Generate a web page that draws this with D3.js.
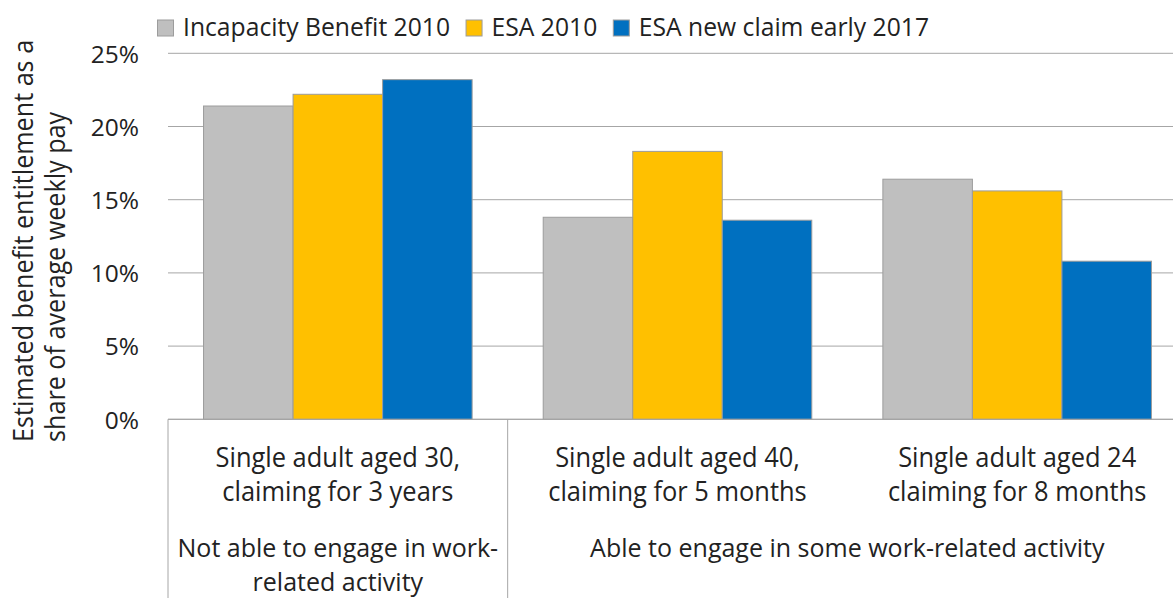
<!DOCTYPE html>
<html>
<head>
<meta charset="utf-8">
<script src="https://cdn.jsdelivr.net/npm/d3@7"></script>
<style>
  html, body { margin: 0; padding: 0; background: #ffffff; }
  svg { display: block; }
  text { font-family: "Open Sans", "Noto Sans", sans-serif; fill: #222222; }
</style>
</head>
<body>
<svg id="chart" width="1173" height="598"></svg>
<script>
// Scenario keys and their two-line labels on the category axis
const categories = ["aged30", "aged40", "aged24"];
const categoryLines = [
  ["Single adult aged 30,", "claiming for 3 years"],
  ["Single adult aged 40,", "claiming for 5 months"],
  ["Single adult aged 24", "claiming for 8 months"]
];

// Outer grouping of the scenarios
const groupLines = [
  ["Not able to engage in work-", "related activity"],
  ["Able to engage in some work-related activity"]
];
const groupMembers = [["aged30"], ["aged40", "aged24"]];

// Series (percent of average weekly pay)
const seriesNames = ["Incapacity Benefit 2010", "ESA 2010", "ESA new claim early 2017"];
const incapacity2010 = [21.4, 13.8, 16.4];
const esa2010 = [22.2, 18.3, 15.6];
const esaNew2017 = [23.2, 13.6, 10.8];
const seriesColors = ["#bfbfbf", "#ffc000", "#0070c0"];

// Axis
const yTicks = [0, 5, 10, 15, 20, 25];
const yTitleLines = ["Estimated benefit entitlement as a", "share of average weekly pay"];

const seriesValues = [incapacity2010, esa2010, esaNew2017];
const table = categories.map((c, i) => ({
  key: c,
  values: seriesNames.map((s, j) => ({ series: s, value: seriesValues[j][i], color: seriesColors[j] }))
}));

const svg = d3.select("#chart");
const plotLeft = 168, plotRight = 1187, plotTop = 53.3, plotBottom = 419.3;
const textScale = 0.95;
const gridColor = "#a6a6a6";

const x = d3.scaleBand().domain(categories).range([plotLeft, plotRight]).padding(0);
const xInner = d3.scaleBand().domain(seriesNames).range([0, x.bandwidth()])
  .paddingInner(0).paddingOuter(0.397);
const y = d3.scaleLinear().domain([0, 25]).range([plotBottom, plotTop]);

// Horizontal gridlines
svg.append("g").selectAll("line").data(yTicks).join("line")
  .attr("x1", plotLeft).attr("x2", plotRight)
  .attr("y1", d => y(d)).attr("y2", d => y(d))
  .attr("stroke", gridColor).attr("stroke-width", 1);

// Y tick labels
const yAxis = d3.axisLeft(y).tickValues(yTicks).tickFormat(d => d + "%").tickSize(0).tickPadding(0);
const yg = svg.append("g").attr("transform", `translate(139,0)`).call(yAxis);
yg.select(".domain").remove();
yg.selectAll("text")
  .attr("font-size", 24.5)
  .attr("font-family", "'Open Sans', 'Noto Sans', sans-serif")
  .attr("fill", "#222222")
  .attr("dy", "0.36em");

// Bars
const groups = svg.append("g").selectAll("g").data(table).join("g")
  .attr("transform", d => `translate(${x(d.key)},0)`);
groups.selectAll("rect").data(d => d.values).join("rect")
  .attr("x", d => xInner(d.series))
  .attr("y", d => y(d.value))
  .attr("width", xInner.bandwidth())
  .attr("height", d => y(0) - y(d.value))
  .attr("fill", d => d.color)
  .attr("stroke", "#9c9c9c")
  .attr("stroke-width", 1);

// Baseline and category dividers
svg.append("line")
  .attr("x1", plotLeft).attr("x2", plotRight)
  .attr("y1", y(0)).attr("y2", y(0))
  .attr("stroke", gridColor).attr("stroke-width", 1);
const dividerXs = [x(groupMembers[0][0]), x(groupMembers[1][0])];
svg.append("g").selectAll("line").data(dividerXs).join("line")
  .attr("x1", d => d).attr("x2", d => d)
  .attr("y1", y(0)).attr("y2", 598)
  .attr("stroke", gridColor).attr("stroke-width", 1);

function scaledText(parent, tx, ty, str, size, anchor, rotate, sx) {
  const s = sx || textScale;
  return parent.append("text")
    .attr("transform", `translate(${tx},${ty})${rotate ? " rotate(" + rotate + ")" : ""} scale(${s},1)`)
    .attr("text-anchor", anchor)
    .attr("font-size", size)
    .text(str);
}

// Category labels
const catLayer = svg.append("g");
categories.forEach((c, i) => {
  const cx = x(c) + x.bandwidth() / 2;
  categoryLines[i].forEach((line, k) => {
    scaledText(catLayer, cx, 466.8 + k * 33.7, line, 26.8, "middle");
  });
});

// Group labels
groupMembers.forEach((members, g) => {
  const left = x(members[0]);
  const right = x(members[members.length - 1]) + x.bandwidth();
  const cx = (left + right) / 2;
  groupLines[g].forEach((line, k) => {
    scaledText(catLayer, cx, 556.5 + k * 34, line, 25, "middle", 0, 1.0);
  });
});

// Y axis title (rotated, start-aligned at the bottom)
yTitleLines.forEach((line, k) => {
  scaledText(svg, 33 + k * 32, 442, line, 26.5, "start", -90);
});

// Legend
const legend = svg.append("g");
let lx = 157.5;
seriesNames.forEach((name, i) => {
  legend.append("rect")
    .attr("x", lx).attr("y", 20).attr("width", 16).attr("height", 16)
    .attr("fill", seriesColors[i]).attr("stroke", "#9c9c9c").attr("stroke-width", 1);
  const t = scaledText(legend, lx + 25.5, 36.3, name, 26, "start");
  const w = t.node().getComputedTextLength() * textScale;
  lx = lx + 25.5 + w + 16;
});
</script>
</body>
</html>
